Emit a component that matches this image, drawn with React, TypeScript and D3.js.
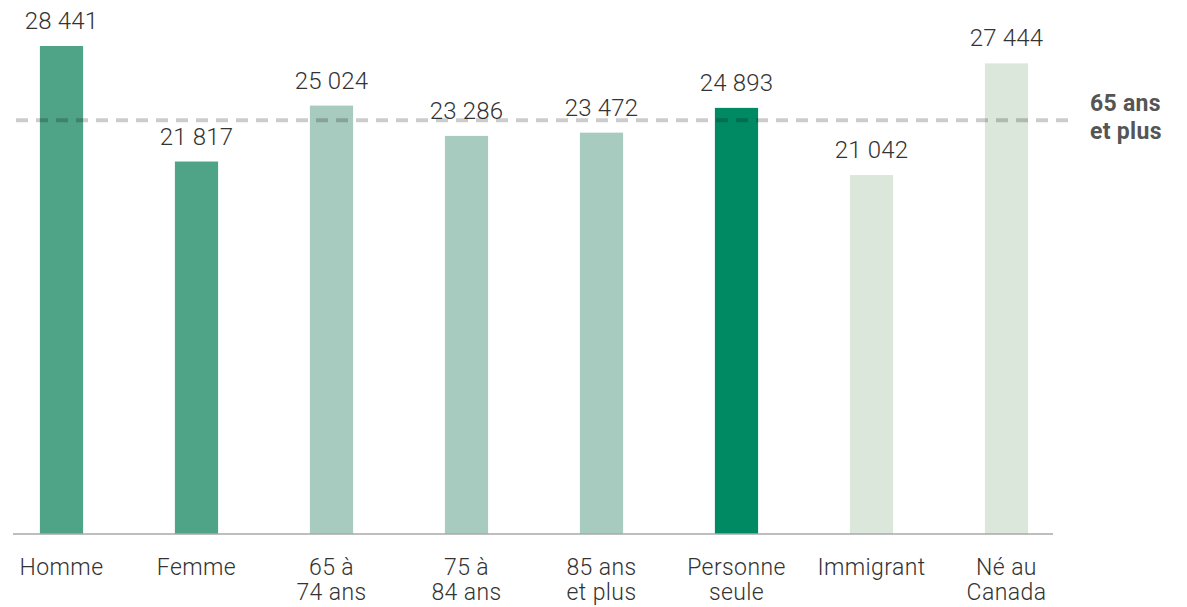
import { scaleBand, scaleLinear, scaleOrdinal, formatLocale } from "d3";

const categories = [
  "Homme",
  "Femme",
  "65 à\n74 ans",
  "75 à\n84 ans",
  "85 ans\net plus",
  "Personne\nseule",
  "Immigrant",
  "Né au\nCanada"
];
const values = [28441, 21817, 25024, 23286, 23472, 24893, 21042, 27444];
const groups = ["sexe", "sexe", "âge", "âge", "âge", "ménage", "origine", "origine"];
const referenceValue = 24190;
const referenceLabel = ["65 ans", "et plus"];

const width = 1187;
const height = 607;
const baseline = 534;
const font = "'Roboto Slab', Roboto, 'Noto Sans', sans-serif";

const fr = formatLocale({ decimal: ",", thousands: " ", grouping: [3], currency: ["", " $"] });
const fmt = fr.format(",d");

export default function App() {
  const x = scaleBand<string>()
    .domain(categories)
    .range([-6, 1074])
    .paddingInner(0.68)
    .paddingOuter(0.34);
  const y = scaleLinear().domain([0, 28441]).range([542, 46]);
  const color = scaleOrdinal<string, string>()
    .domain(["sexe", "âge", "ménage", "origine"])
    .range(["#4fa386", "#a8cbc0", "#008a63", "#dce7dc"]);

  return (
    <svg
      width={width}
      height={height}
      viewBox={`0 0 ${width} ${height}`}
      style={{ position: "absolute", left: 0, top: 0, background: "#fff" }}
      fontFamily={font}
    >
      {categories.map((c, i) => {
        const bx = x(c) ?? 0;
        const cx = bx + x.bandwidth() / 2;
        const top = y(values[i]);
        return (
          <g key={c}>
            <rect x={bx} y={top} width={x.bandwidth()} height={baseline - top} fill={color(groups[i])} />
            <text
              x={cx}
              y={top - 17}
              textAnchor="middle"
              fontSize={24}
              fontWeight={300}
              letterSpacing={0.2}
              fill="#333"
            >
              {fmt(values[i])}
            </text>
            <text textAnchor="middle" fontSize={23} fontWeight={300} letterSpacing={0.4} fill="#333">
              {c.split("\n").map((line, j) => (
                <tspan key={j} x={cx} y={575 + j * 25}>
                  {line}
                </tspan>
              ))}
            </text>
          </g>
        );
      })}
      <line x1={13} x2={1053} y1={baseline} y2={baseline} stroke="#a8a8a8" strokeWidth={1.5} />
      <line
        x1={16}
        x2={1074}
        y1={y(referenceValue)}
        y2={y(referenceValue)}
        stroke="#000"
        strokeOpacity={0.2}
        strokeWidth={4}
        strokeDasharray="12 8"
      />
      <text fontSize={23} fontWeight={700} letterSpacing={0.3} fill="#555">
        {referenceLabel.map((line, j) => (
          <tspan key={j} x={1090} y={111 + j * 28}>
            {line}
          </tspan>
        ))}
      </text>
    </svg>
  );
}
